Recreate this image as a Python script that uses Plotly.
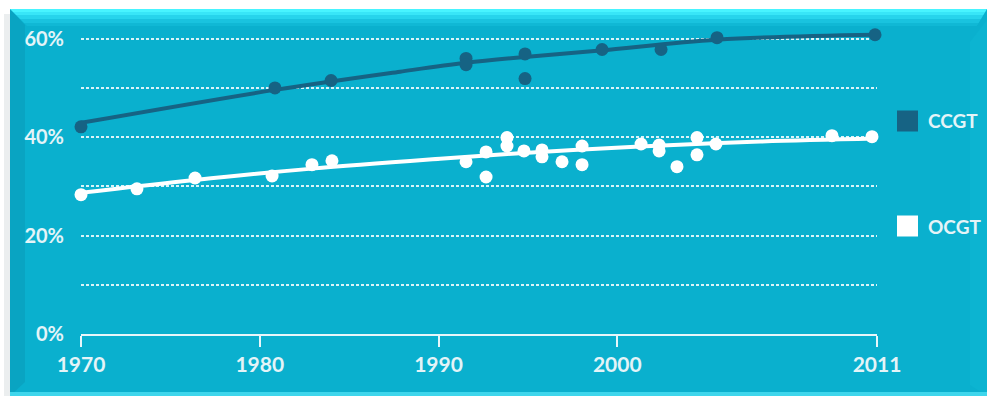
import plotly.graph_objects as go

# ---------------- data ----------------
SERIES = ["CCGT", "OCGT"]

ccgt_year = [1970.0, 1980.85, 1983.99, 1991.54, 1991.54, 1994.84, 1994.84,
             1999.15, 2002.45, 2005.58, 2014.42]
ccgt_eff = [42.1, 50.0, 51.5, 56.0, 54.7, 56.9, 51.9, 57.8, 57.8, 60.2, 60.8]

ocgt_year = [1970.0, 1973.13, 1976.38, 1980.69, 1982.92, 1984.04, 1991.54,
             1992.66, 1992.66, 1993.83, 1993.83, 1994.78, 1995.79, 1995.79,
             1996.91, 1998.03, 1998.03, 2001.33, 2002.34, 2002.34, 2003.34,
             2004.46, 2004.46, 2005.52, 2012.01, 2014.25]
ocgt_eff = [28.3, 29.5, 31.7, 32.1, 34.4, 35.2, 35.0,
            37.0, 31.9, 39.9, 38.2, 37.2, 37.4, 36.0,
            35.0, 38.2, 34.4, 38.6, 38.4, 37.2, 34.0,
            39.9, 36.4, 38.6, 40.3, 40.1]

ccgt_trend_year = [1970, 1980.85, 1987.85, 1991.54, 1994.84, 1999.04, 2005.58, 2014.42]
ccgt_trend_eff = [42.9, 49.6, 53.3, 55.1, 56.3, 57.6, 59.8, 60.8]

ocgt_trend_year = [1970, 1976.38, 1982.92, 1990.08, 1995.68, 2001.27, 2007.99, 2014.48]
ocgt_trend_eff = [28.7, 31.3, 33.6, 35.6, 37.0, 38.1, 39.1, 39.7]

x_tick_vals = [1970, 1980, 1990, 2000, 2014.53]
x_tick_text = ["1970", "1980", "1990", "2000", "2011"]
y_tick_vals = [0, 20, 40, 60]
y_tick_text = ["0%", "20%", "40%", "60%"]

# ---------------- style ----------------
W, H = 987, 396
ML, MR, MT, MB = 81, 110, 19, 62
TEAL = "#0AB0CE"
DARK = "#166384"
WHITE = "#FFFFFF"
TXT = "#E4F4F8"
FONT = "Lato"

PW = W - ML - MR
PH = H - MT - MB


def px(x):
    return (x - ML) / PW


def py(y):
    return (H - MB - y) / PH


fig = go.Figure()

fig.add_trace(go.Scatter(x=ccgt_trend_year, y=ccgt_trend_eff, mode="lines",
                         line=dict(color=DARK, width=4, shape="spline"),
                         showlegend=False, hoverinfo="skip", cliponaxis=False))
fig.add_trace(go.Scatter(x=ocgt_trend_year, y=ocgt_trend_eff, mode="lines",
                         line=dict(color=WHITE, width=4, shape="spline"),
                         showlegend=False, hoverinfo="skip", cliponaxis=False))
fig.add_trace(go.Scatter(x=ccgt_year, y=ccgt_eff, mode="markers", name=SERIES[0],
                         marker=dict(color=DARK, size=13), showlegend=False,
                         cliponaxis=False))
fig.add_trace(go.Scatter(x=ocgt_year, y=ocgt_eff, mode="markers", name=SERIES[1],
                         marker=dict(color=WHITE, size=13), showlegend=False,
                         cliponaxis=False))

shapes = []
# panel background
shapes.append(dict(type="rect", xref="paper", yref="paper", layer="below",
                   x0=px(10), x1=px(987), y0=py(9), y1=py(396),
                   fillcolor=TEAL, line=dict(width=0)))
# left shadow
shapes.append(dict(type="rect", xref="paper", yref="paper", layer="below",
                   x0=px(4), x1=px(10), y0=py(14), y1=py(396),
                   fillcolor="#EBEEEF", line=dict(width=0)))
# left bevel (slightly darker)
shapes.append(dict(type="path", xref="paper", yref="paper", layer="below",
                   path=f"M {px(10)},{py(9)} L {px(25)},{py(25)} L {px(25)},{py(382)} L {px(10)},{py(396)} Z",
                   fillcolor="#09A4C2", line=dict(width=0)))
# right bevel
shapes.append(dict(type="path", xref="paper", yref="paper", layer="below",
                   path=f"M {px(987)},{py(20)} L {px(970)},{py(42)} L {px(970)},{py(385)} L {px(987)},{py(396)} Z",
                   fillcolor="#0CB4D1", line=dict(width=0)))
# top bevel bands (light cyan gradient)
bands = [(9, 12, "#48F4FF"), (12, 15, "#38E6F8"), (15, 19, "#27D4EC"),
         (19, 23, "#19C3DF"), (23, 26, "#10B8D5")]
for y0, y1, c in bands:
    shapes.append(dict(type="path", xref="paper", yref="paper", layer="below",
                       path=(f"M {px(10 + (y0 - 9))},{py(y0)} L {px(987 - (y0 - 9) * 0.6)},{py(y0)} "
                             f"L {px(987 - (y1 - 9) * 0.6)},{py(y1)} L {px(10 + (y1 - 9))},{py(y1)} Z"),
                       fillcolor=c, line=dict(width=0)))
# bottom light strip
shapes.append(dict(type="rect", xref="paper", yref="paper", layer="below",
                   x0=px(10), x1=px(987), y0=py(396), y1=py(392),
                   fillcolor="#3FD6EC", line=dict(width=0)))

# legend squares and labels
legend_items = [(SERIES[0], DARK, 121), (SERIES[1], WHITE, 226)]
annotations = []
for name, col, cy in legend_items:
    shapes.append(dict(type="rect", xref="paper", yref="paper",
                       x0=px(897), x1=px(918), y0=py(cy - 10.5), y1=py(cy + 10.5),
                       fillcolor=col, line=dict(width=0)))
    annotations.append(dict(xref="paper", yref="paper", x=px(926), y=py(cy),
                            xanchor="left", yanchor="middle", showarrow=False,
                            text=name, font=dict(family=FONT, size=19, color=TXT,
                                                 weight=700)))

fig.update_layout(
    width=W, height=H,
    margin=dict(l=ML, r=MR, t=MT, b=MB),
    paper_bgcolor="#FFFFFF",
    plot_bgcolor="rgba(0,0,0,0)",
    showlegend=False,
    shapes=shapes,
    annotations=annotations,
    font=dict(family=FONT, color=TXT),
    xaxis=dict(range=[1970, 2014.53], tickvals=x_tick_vals, ticktext=x_tick_text,
               showgrid=False, zeroline=False, showline=True, linecolor="#E8F6FA",
               linewidth=2, ticks="outside", ticklen=11, tickwidth=2,
               tickcolor="#E8F6FA",
               tickfont=dict(family=FONT, size=21, color=TXT, weight=700),
               fixedrange=True),
    yaxis=dict(range=[0, 64], tickvals=y_tick_vals, ticktext=y_tick_text,
               showgrid=True, gridcolor="rgba(255,255,255,0.85)", gridwidth=2,
               griddash="3px,2px", zeroline=False, showline=False, ticks="",
               ticklabelstandoff=16,
               minor=dict(tickvals=[10, 30, 50], showgrid=True,
                          gridcolor="rgba(255,255,255,0.85)", gridwidth=2,
                          griddash="3px,2px"),
               tickfont=dict(family=FONT, size=20, color=TXT, weight=700),
               fixedrange=True),
)

fig.write_html("out.html")
